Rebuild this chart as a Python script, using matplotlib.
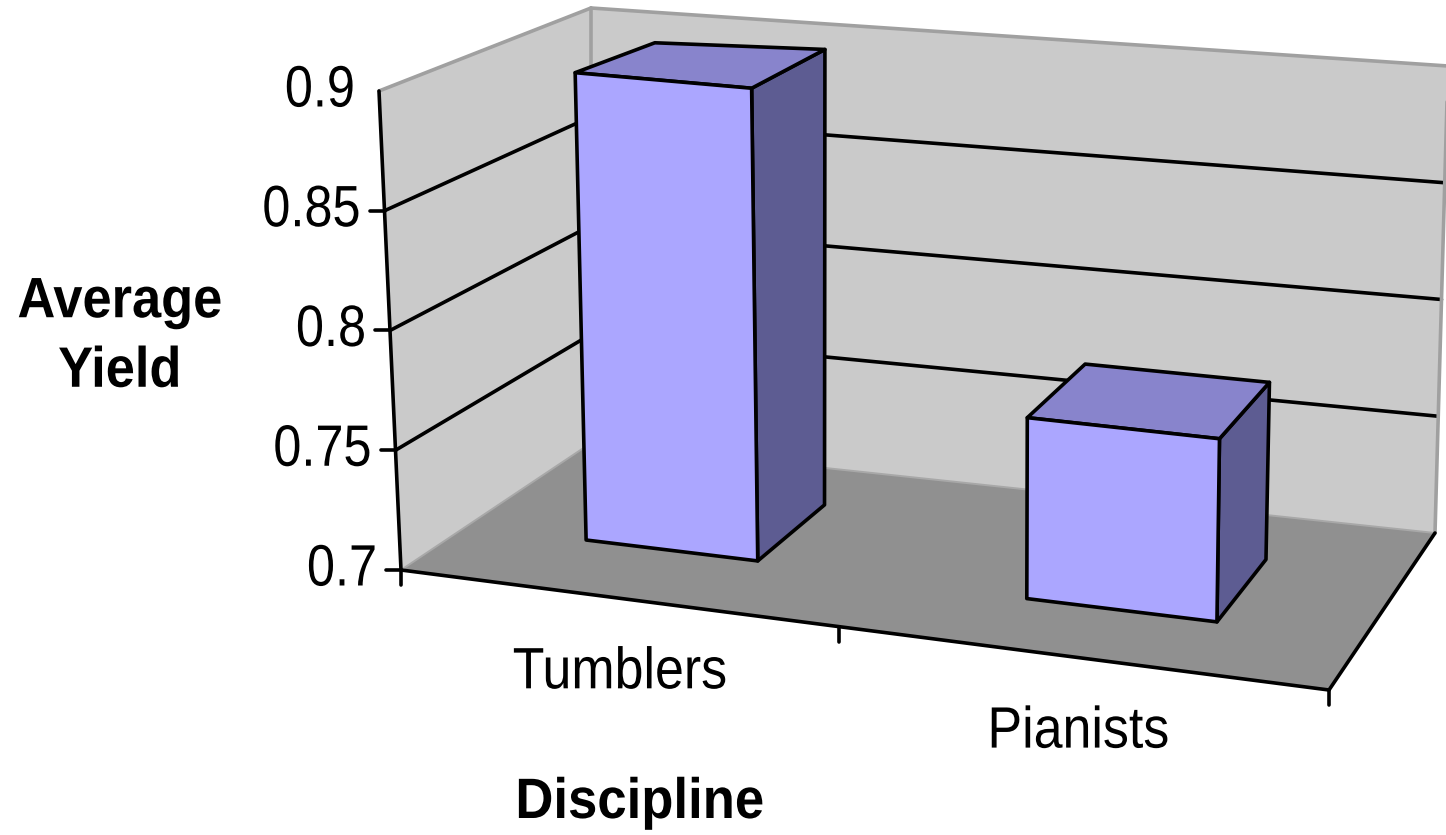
import numpy as np
import matplotlib
matplotlib.use("Agg")
import matplotlib.pyplot as plt
from matplotlib.patches import Polygon
from matplotlib.patheffects import AbstractPathEffect
from matplotlib.transforms import Affine2D

# data
categories = ["Tumblers", "Pianists"]
values = [0.9, 0.775]
y_ticks = [0.7, 0.75, 0.8, 0.85, 0.9]
y_labels = ["0.7", "0.75", "0.8", "0.85", "0.9"]
x_title = "Discipline"
y_title = "Average\nYield"

# layout of the oblique box (pixels of the image)
V0, V1 = 0.7, 0.9
floor_c = dict(A=(401, 570), B=(1329, 690), C=(591, 443), D=(1435, 533))
up_c = dict(A=(-22, -479), B=(10, -505), C=(0, -435), D=(13, -467))
bar_u0 = [0.132, 0.627]
bar_u1 = [0.323, 0.838]
bar_d0 = [0.35, 0.32]
bar_d1 = [0.76, 0.73]
bar_back_u = [0.1435, 0.627]
bar_back_d = [0.70, 0.73]
label_u = [0.236, 0.73]
sep_u = [0.0, 0.472, 1.0]


def blend(c, u, d):
    return ((1 - u) * (1 - d) * np.array(c["A"]) + u * (1 - d) * np.array(c["B"])
            + (1 - u) * d * np.array(c["C"]) + u * d * np.array(c["D"]))


def project(u, v, d):
    return blend(floor_c, u, d) + (v - V0) / (V1 - V0) * blend(up_c, u, d)


class Squeeze(AbstractPathEffect):
    """Condense glyphs horizontally about a fixed x (the font has no narrow cut)."""

    def __init__(self, cx, sx):
        super().__init__()
        self.cx, self.sx = cx, sx

    def draw_path(self, renderer, gc, tpath, affine, rgbFace=None):
        t = affine + Affine2D().translate(-self.cx, 0).scale(self.sx, 1).translate(self.cx, 0)
        renderer.draw_path(gc, tpath, t, rgbFace)


WALL, FLOOR = "#cacaca", "#909090"
FRONT, TOP, SIDE = "#aba6ff", "#8884cc", "#5d5c92"
RIM = "#a0a0a0"
LW = 2.6

fig = plt.figure(figsize=(14.46, 8.35), dpi=100)
ax = fig.add_axes([0, 0, 1, 1])
ax.set_xlim(0, 1446)
ax.set_ylim(835, 0)
ax.axis("off")


def poly(pts, fc, z, ec="none", lw=0):
    ax.add_patch(Polygon(np.array(pts), closed=True, facecolor=fc, edgecolor=ec,
                         linewidth=lw, zorder=z, joinstyle="round"))


def seg(p, q, color="black", lw=LW, z=3):
    ax.plot([p[0], q[0]], [p[1], q[1]], color=color, lw=lw, zorder=z,
            solid_capstyle="round")


def label(x, y, s, size, sx, ha="center", weight="normal", **kw):
    t = ax.text(x, y, s, ha=ha, va="center", fontsize=size, fontweight=weight,
                family="Liberation Sans", color="black", zorder=6, **kw)
    t.set_path_effects([Squeeze(x, sx)])
    return t


# walls and floor
poly([project(0, V0, 0), project(0, V1, 0), project(0, V1, 1), project(0, V0, 1)], WALL, 1)
poly([project(0, V0, 1), project(0, V1, 1), project(1, V1, 1), project(1, V0, 1)], WALL, 1)
poly([project(0, V0, 0), project(1, V0, 0), project(1, V0, 1), project(0, V0, 1)], FLOOR, 2)

# grid lines
for v in y_ticks[1:-1]:
    seg(project(0, v, 0), project(0, v, 1))
    seg(project(0, v, 1), project(1, v, 1))

# rims
seg(project(0, V1, 0), project(0, V1, 1), RIM, 2.6)
seg(project(0, V1, 1), project(1, V1, 1), RIM, 2.6)
seg(project(0, V0, 1), project(0, V1, 1), RIM, 2.6)
seg(project(1, V0, 1), project(1, V1, 1), RIM, 2.6)
seg(project(0, V0, 0), project(0, V0, 1), "#a8a8a8", 1.4, 2.5)
seg(project(0, V0, 1), project(1, V0, 1), "#a8a8a8", 1.4, 2.5)

# axes
seg(project(0, V0, 0), project(0, V1, 0), z=4)
seg(project(0, V0, 0), project(1, V0, 0), z=4)
seg(project(1, V0, 0), project(1, V0, 1), z=4)

for v, lab in zip(y_ticks, y_labels):
    p = project(0, v, 0)
    if v < V1:
        seg(p, p + (-15, 0), z=4)
    label(p[0] - 24, p[1] + 0.5, lab, 42, 0.865, ha="right")
for u in sep_u:
    p = project(u, V0, 0)
    seg(p, p + (0, 15), z=4)

# bars
for i, val in enumerate(values):
    u0, u1, d0, d1 = bar_u0[i], bar_u1[i], bar_d0[i], bar_d1[i]
    bu, bd = bar_back_u[i], bar_back_d[i]
    z = 5 + i * 0.1
    poly([project(u1, V0, d0), project(u1, val, d0), project(u1, val, d1), project(u1, V0, d1)],
         SIDE, z, "black", LW)
    poly([project(u0, val, d0), project(u1, val, d0), project(u1, val, d1), project(bu, val, bd)],
         TOP, z, "black", LW)
    poly([project(u0, V0, d0), project(u1, V0, d0), project(u1, val, d0), project(u0, val, d0)],
         FRONT, z, "black", LW)

for u, cat in zip(label_u, categories):
    p = project(u, V0, 0)
    label(p[0], p[1] + 75, cat, 42, 0.89)

label(120, 337, y_title, 41, 0.92, weight="bold", linespacing=1.37)
label(640, 803, x_title, 41, 0.925, weight="bold")

fig.savefig("out.png", dpi=100, facecolor="white")
